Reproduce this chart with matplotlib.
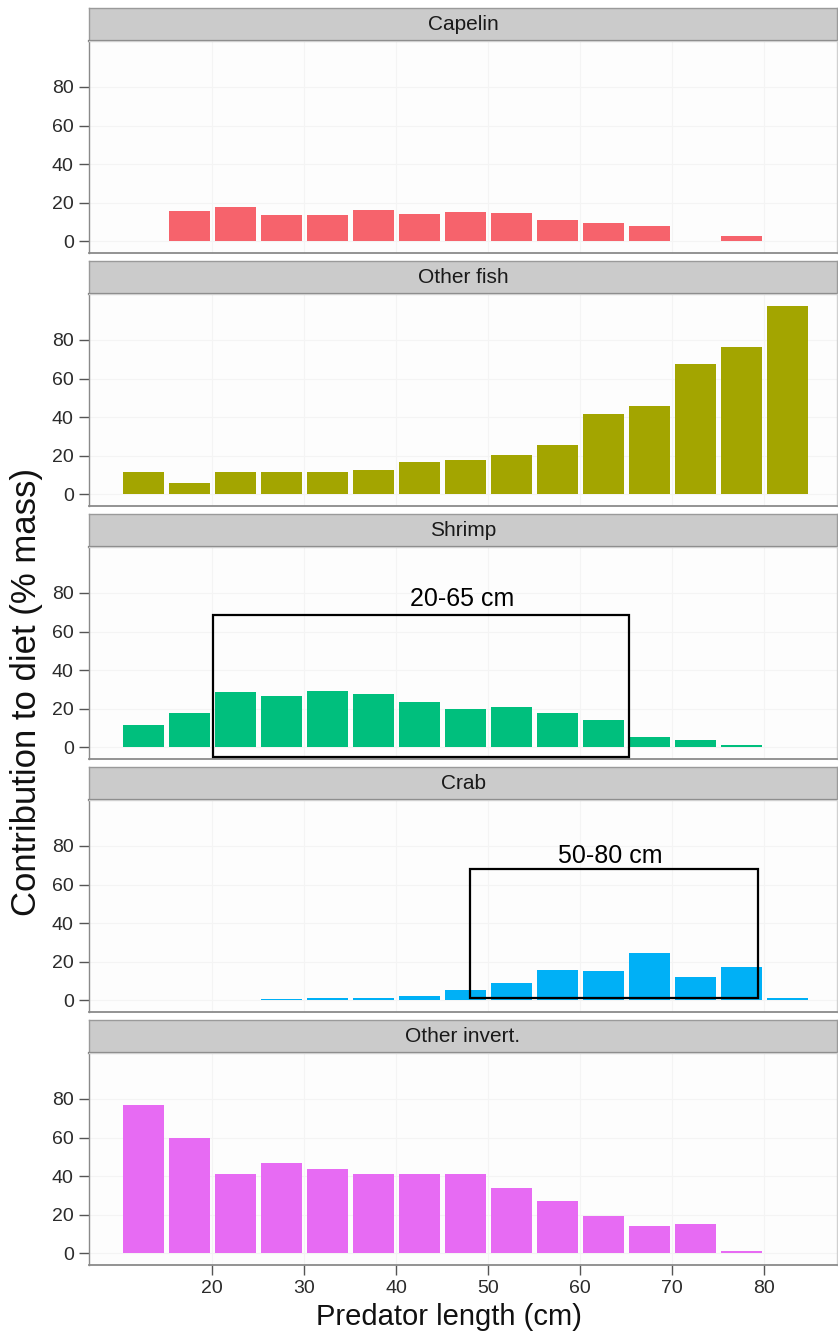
import matplotlib
matplotlib.use("Agg")
import matplotlib.pyplot as plt
from matplotlib.patches import Rectangle

plt.rcParams["font.family"] = ["Liberation Sans", "DejaVu Sans"]

# Predator length bins (cm, bin centres) and diet contribution (% mass) per prey group
length_bins = [12.5, 17.5, 22.5, 27.5, 32.5, 37.5, 42.5, 47.5, 52.5, 57.5, 62.5, 67.5, 72.5, 77.5, 82.5]
capelin = [0, 16.0, 17.7, 13.7, 13.7, 16.2, 14.3, 15.3, 14.8, 11.1, 9.4, 8.1, 0, 3.0, 0]
other_fish = [11.8, 6.0, 11.8, 11.8, 11.8, 12.8, 17.0, 18.0, 20.5, 25.6, 41.5, 46.0, 67.7, 76.4, 97.4]
shrimp = [11.6, 17.6, 28.6, 26.8, 29.1, 27.7, 23.4, 20.1, 20.9, 17.6, 14.0, 5.6, 3.8, 1.0, 0.2]
crab = [0, 0, 0.3, 0.5, 1.0, 1.5, 2.5, 5.2, 9.1, 15.6, 15.1, 24.5, 12.1, 17.2, 1.2]
other_invert = [76.8, 59.8, 41.2, 46.9, 43.8, 41.2, 41.2, 41.2, 34.0, 27.3, 19.2, 14.4, 15.0, 1.0, 0]

prey_names = ["Capelin", "Other fish", "Shrimp", "Crab", "Other invert."]
prey_values = [capelin, other_fish, shrimp, crab, other_invert]
prey_colors = ["#F6636C", "#A3A500", "#00BF7D", "#00B0F6", "#E76BF3"]

y_ticks = [0, 20, 40, 60, 80]
x_ticks = [20, 30, 40, 50, 60, 70, 80]

# Highlighted length ranges: (panel, x0, x1, y0, y1, label, label_x, label_y)
highlights = [
    (2, 20.1, 65.3, -5.0, 68.7, "20-65 cm", 47.2, 76.9),
    (3, 48.0, 79.3, 1.5, 68.0, "50-80 cm", 63.3, 74.7),
]

W, H = 838, 1336
fig = plt.figure(figsize=(W / 100, H / 100), dpi=100)

left_px, right_px = 89, 837
strip_tops = [8, 261, 514, 767, 1020]
strip_h = 33
panel_h = 212

axes = []
for i, (name, vals, col) in enumerate(zip(prey_names, prey_values, prey_colors)):
    st = strip_tops[i]
    # facet strip
    sax = fig.add_axes([left_px / W, 1 - (st + strip_h) / H,
                        (right_px - left_px) / W, strip_h / H])
    sax.set_facecolor("#CBCBCB")
    sax.set_xticks([])
    sax.set_yticks([])
    for s in sax.spines.values():
        s.set_color("#9A9A9A")
        s.set_linewidth(1.0)
    sax.spines["bottom"].set_color("#7F7F7F")
    sax.spines["bottom"].set_linewidth(1.6)
    sax.text(0.5, 0.5, name, ha="center", va="center", fontsize=15,
             color="#1A1A1A", transform=sax.transAxes)

    # facet panel
    top = st + strip_h
    ax = fig.add_axes([left_px / W, 1 - (top + panel_h) / H,
                       (right_px - left_px) / W, panel_h / H])
    ax.set_facecolor("#FDFDFD")
    ax.bar(length_bins, vals, width=4.5, color=col, edgecolor="none", zorder=3)
    ax.set_xlim(6.6, 87.9)
    ax.set_ylim(-6.0, 103.8)
    ax.set_yticks(y_ticks)
    ax.set_yticklabels([str(t) for t in y_ticks], fontsize=14, color="#2B2B2B")
    ax.set_xticks(x_ticks)
    ax.grid(True, color="#F4F4F4", linewidth=0.8, zorder=0)
    ax.tick_params(axis="y", length=7, width=1, color="#555555", pad=4)
    for s in ax.spines.values():
        s.set_color("#D0D0D0")
        s.set_linewidth(1.0)
    ax.spines["left"].set_color("#8A8A8A")
    ax.spines["bottom"].set_color("#8A8A8A")
    ax.spines["bottom"].set_linewidth(1.3)
    if i < 4:
        ax.tick_params(axis="x", length=0, labelbottom=False)
    else:
        ax.set_xticklabels([str(t) for t in x_ticks], fontsize=14, color="#2B2B2B")
        ax.tick_params(axis="x", length=7, width=1, color="#555555", pad=4)
    axes.append(ax)

for (pi, x0, x1, y0, y1, label, lx, ly) in highlights:
    ax = axes[pi]
    ax.add_patch(Rectangle((x0, y0), x1 - x0, y1 - y0, fill=False,
                           edgecolor="black", linewidth=1.6, zorder=5, clip_on=False))
    ax.text(lx, ly, label, ha="center", va="center", fontsize=18, color="black", zorder=6)

fig.text(449 / W, 1 - 1317 / H, "Predator length (cm)",
         ha="center", va="center", fontsize=21, color="#111111")
fig.text(27 / W, 1 - 692 / H, "Contribution to diet (% mass)", rotation=90,
         ha="center", va="center", fontsize=25, color="#111111")

fig.savefig("out.png", dpi=100, facecolor="white")
